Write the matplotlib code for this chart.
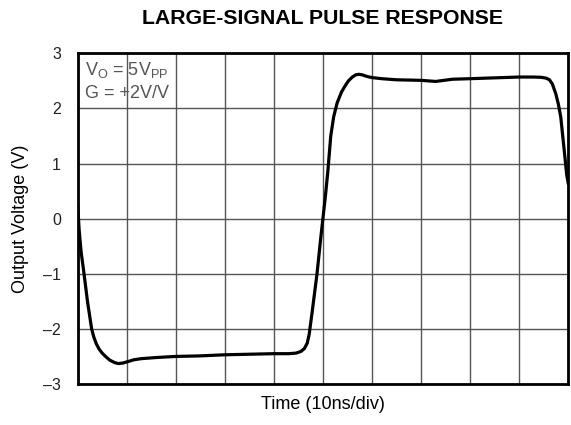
import numpy as np
import matplotlib.pyplot as plt

plt.rcParams['font.family'] = ['Liberation Sans', 'DejaVu Sans']

# time in divisions (10ns/div), output voltage in V
time_div = [0.0, 0.03, 0.07, 0.13, 0.2, 0.285, 0.33, 0.38, 0.44, 0.5, 0.58, 0.66, 0.75, 0.83,
            0.92, 1.0, 1.15, 1.3, 1.6, 2.0, 2.5, 3.0, 3.5, 4.0, 4.3, 4.45, 4.55, 4.62, 4.68,
            4.72, 4.78, 4.88, 4.95, 5.0, 5.05, 5.1, 5.16, 5.22, 5.29, 5.38, 5.46, 5.52,
            5.6, 5.67, 5.73, 5.8, 5.9, 6.0, 6.2, 6.5, 7.0, 7.3, 7.64, 8.0, 8.5, 9.0, 9.3,
            9.45, 9.55, 9.62, 9.68, 9.75, 9.8, 9.85, 9.92, 9.97, 10.0]
v_out = [0.25, -0.2, -0.6, -1.0, -1.5, -2.0, -2.15, -2.27, -2.37, -2.44, -2.51, -2.57, -2.61, -2.63,
         -2.62, -2.6, -2.56, -2.54, -2.52, -2.5, -2.49, -2.47, -2.46, -2.45, -2.45, -2.44, -2.41, -2.36, -2.26,
         -2.1, -1.7, -1.0, -0.4, 0.0, 0.4, 0.85, 1.5, 1.85, 2.1, 2.3, 2.42, 2.5,
         2.57, 2.61, 2.62, 2.61, 2.58, 2.56, 2.54, 2.52, 2.51, 2.49, 2.53, 2.54, 2.555, 2.57, 2.57,
         2.565, 2.55, 2.52, 2.44, 2.26, 2.08, 1.84, 1.24, 0.8, 0.65]
y_ticks = [-3, -2, -1, 0, 1, 2, 3]
y_tick_labels = ['\u20133', '\u20132', '\u20131', '0', '1', '2', '3']

fig = plt.figure(figsize=(5.71, 4.25), dpi=100)
ax = fig.add_axes([0.136, 0.0965, 0.859, 0.778])

ax.plot(time_div, v_out, color='black', linewidth=2.3, solid_joinstyle='round')

ax.set_xlim(0, 10)
ax.set_ylim(-3, 3)
ax.set_xticks(np.arange(0, 11, 1))
ax.set_xticklabels([])
ax.set_yticks(y_ticks)
ax.set_yticklabels(y_tick_labels, fontsize=11.5, color='#222222')
ax.tick_params(axis='y', length=0, pad=12)
ax.tick_params(axis='x', length=0, pad=0)
ax.grid(True, color='#555555', linewidth=1.0)
for s in ax.spines.values():
    s.set_linewidth(2.0)
    s.set_color('black')

ax.set_ylabel('Output Voltage (V)', fontsize=13, labelpad=10)
ax.set_xlabel('Time (10ns/div)', fontsize=13, labelpad=9)
ax.set_title('LARGE-SIGNAL PULSE RESPONSE', fontsize=15.3, fontweight='bold', pad=21)

ax.text(0.15, 2.61, '$\\mathregular{V_O}$ = 5$\\mathregular{V_{PP}}$', fontsize=13,
        color='#555555', va='baseline', ha='left')
ax.text(0.15, 2.19, 'G = +2V/V', fontsize=13, color='#555555', va='baseline', ha='left')

fig.savefig('out.png', dpi=100)
